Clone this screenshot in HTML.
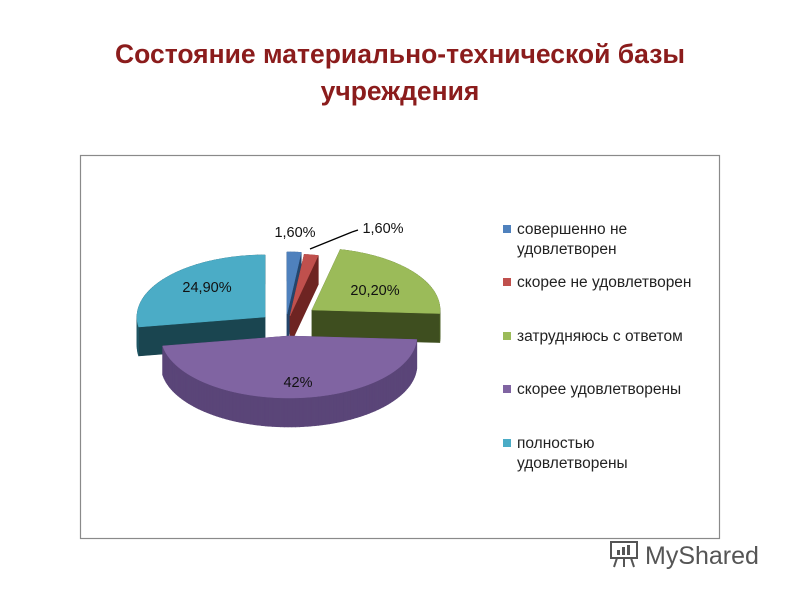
<!DOCTYPE html>
<html><head><meta charset="utf-8">
<style>
body{margin:0;background:#fff;}
#wrap{position:relative;width:800px;height:600px;overflow:hidden;font-family:"Liberation Sans","DejaVu Sans",sans-serif;}
.title{position:absolute;left:0;width:800px;text-align:center;color:#8b1c1c;font-weight:bold;font-size:26.5px;}
</style></head>
<body>
<div id="wrap">
<div class="title" style="top:39px">Состояние материально-технической базы</div>
<div class="title" style="top:76px">учреждения</div>
<svg id="svg" width="800" height="600" style="position:absolute;left:0;top:0">
<rect x="80.5" y="155.5" width="639" height="383" fill="none" stroke="#8a8a8a" stroke-width="1.2"/>
<g id="pie"></g>
<g id="legend"></g>
<line x1="310" y1="249" x2="352" y2="232" stroke="#000" stroke-width="1.3"/>
<line x1="352" y1="232" x2="358" y2="230" stroke="#000" stroke-width="1.3"/>
<g>
<rect x="611" y="542" width="26" height="16" fill="none" stroke="#555" stroke-width="2"/>
<rect x="617" y="550" width="3" height="5" fill="#555"/><rect x="622" y="547" width="3" height="8" fill="#555"/><rect x="627" y="545" width="3" height="10" fill="#555"/>
<line x1="617" y1="558" x2="614" y2="567" stroke="#555" stroke-width="2"/><line x1="624" y1="558" x2="624" y2="567" stroke="#555" stroke-width="2"/><line x1="631" y1="558" x2="634" y2="567" stroke="#555" stroke-width="2"/>
<text x="645" y="564" font-size="25" fill="#555">MyShared</text>
</g>
</svg>
</div>
<script>
const categories=["совершенно не удовлетворен","скорее не удовлетворен","затрудняюсь с ответом","скорее удовлетворены","полностью удовлетворены"];
const values=[1.6,1.6,20.2,42,24.9];
const valueLabels=["1,60%","1,60%","20,20%","42%","24,90%"];

const topColors=["#4f81bd","#c0504d","#9bbb59","#8064a2","#4bacc6"];
const sideColors=["#2f5785","#8a2f2d","#4f6228","#5a4578","#1f5563"];
const wallColors=["#24456b","#6e2422","#3e4e1f","#4a3865","#1a4550"];
const offsets=[[-2,-2],[1,0],[23,-6],[0,20],[-24,1]];
const labelPos=[[295,237],[383,233],[375,295],[298,387],[207,292]];
const cx=289,cy=316,rx=128,ry=62,depth=29;
const NS="http://www.w3.org/2000/svg";
const pie=document.getElementById('pie');
const total=values.reduce((a,b)=>a+b,0);
function pt(x0,y0,a){return [x0+rx*Math.sin(a),y0-ry*Math.cos(a)];}
function mk(tag,attrs){const e=document.createElementNS(NS,tag);for(const k in attrs)e.setAttribute(k,attrs[k]);return e;}
let acc=0;const slices=[];
values.forEach((v,i)=>{const a0=acc/total*2*Math.PI;acc+=v;const a1=acc/total*2*Math.PI;slices.push({i,a0,a1});});
const order=[0,1,4,2,3];
order.forEach(i=>{
  const s=slices[i];const x0=cx+offsets[i][0],y0=cy+offsets[i][1];
  const g=mk('g',{});
  
  
  const n=Math.max(4,Math.ceil((s.a1-s.a0)/0.03));
  const arc=[];for(let k=0;k<=n;k++)arc.push(pt(x0,y0,s.a0+(s.a1-s.a0)*k/n));
  const c=[x0,y0];
  const quads=[];
  quads.push({p:[c,arc[0]],col:wallColors[i]});
  quads.push({p:[arc[n],c],col:wallColors[i]});
  for(let k=0;k<n;k++)quads.push({p:[arc[k],arc[k+1]],col:sideColors[i]});
  quads.forEach(q=>q.y=(q.p[0][1]+q.p[1][1])/2);
  quads.sort((a,b)=>a.y-b.y);
  quads.forEach(q=>{
    const [p1,p2]=q.p;
    const d=`M${p1[0]},${p1[1]}L${p2[0]},${p2[1]}L${p2[0]},${p2[1]+depth}L${p1[0]},${p1[1]+depth}Z`;
    g.appendChild(mk('path',{d,fill:q.col,stroke:q.col,'stroke-width':0.6}));
  });
  let d=`M${c[0]},${c[1]}`;arc.forEach(p=>d+=`L${p[0]},${p[1]}`);d+='Z';
  g.appendChild(mk('path',{d,fill:topColors[i],stroke:topColors[i],'stroke-width':0.5}));
  pie.appendChild(g);
});
valueLabels.forEach((t,i)=>{
  const e=mk('text',{x:labelPos[i][0],y:labelPos[i][1],'font-size':14.5,'text-anchor':'middle',fill:'#111'});
  e.textContent=t;
  
  
  pie.appendChild(e);
});
const leg=document.getElementById('legend');
const legLines=[["совершенно не","удовлетворен"],["скорее не удовлетворен"],["затрудняюсь с ответом"],["скорее удовлетворены"],["полностью","удовлетворены"]];
const legY=[234,287,341,394,448];
legLines.forEach((ls,i)=>{
  const g=mk('g',{});
  
  
  g.appendChild(mk('rect',{x:503,y:legY[i]-9,width:8,height:8,fill:topColors[i]}));
  ls.forEach((l,j)=>{const t=mk('text',{x:517,y:legY[i]+j*20,'font-size':15.5,fill:'#222'});t.textContent=l;g.appendChild(t);});
  leg.appendChild(g);
});
</script>
</body></html>
